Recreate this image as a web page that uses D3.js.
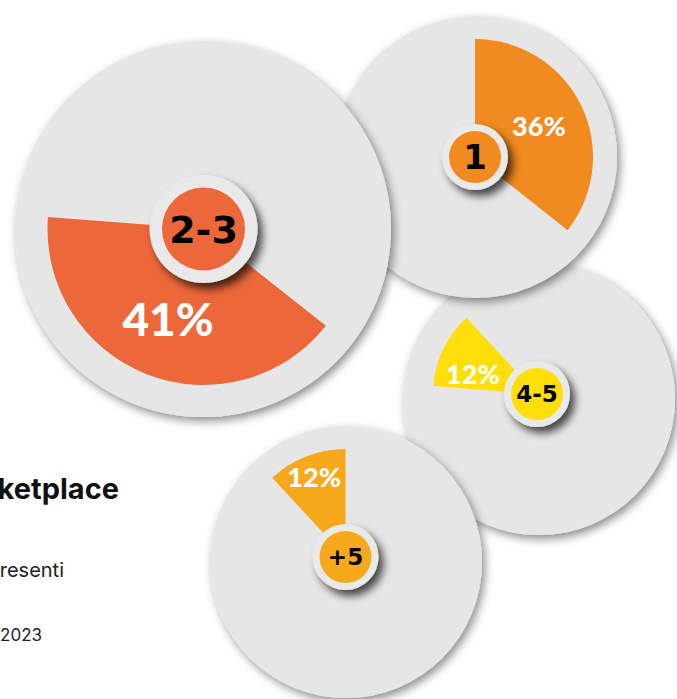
<!DOCTYPE html>
<html lang="it">
<head>
<meta charset="utf-8">
<title>Numero di marketplace</title>
<script src="https://cdn.jsdelivr.net/npm/d3@7/dist/d3.min.js"></script>
<style>
  html, body { margin: 0; padding: 0; background: #ffffff; overflow: hidden; }
  svg { display: block; }
</style>
</head>
<body>
<svg id="chart" width="677" height="699"></svg>
<script>
// Quota di aziende per numero di marketplace utilizzati
const categories = ["1", "2-3", "4-5", "+5"];
const shares = [36, 41, 12, 12];
const colors = ["#F18A1F", "#EC673A", "#FFDE0A", "#F6A91B"];

const titleText = "Numero di marketplace";
const subtitleText = "Quota di aziende per numero di marketplace su cui sono presenti";
const sourceText = "Fonte: indagine sulle aziende, 2023";

// Placement of each disc (centre, disc radius, wedge radius, hub, font sizes)
const layout = {
  "1":   { cx: 476, cy: 157, r: 141, hx: 475, hy: 157, wr: 118, hub: 26, ring: 33, catSize: 34, pctSize: 27, pctR: 71 },
  "2-3": { cx: 203, cy: 229, r: 188, hx: 203.5, hy: 229, wr: 156, hub: 41.5, ring: 54, catSize: 38, pctSize: 46, pctR: 97 },
  "4-5": { cx: 539, cy: 399, r: 136, hx: 537, hy: 394, wr: 104, hub: 26, ring: 33, catSize: 23, pctSize: 27, pctR: 67, pctAngle: 287 },
  "+5":  { cx: 346, cy: 562, r: 136, hx: 345.5, hy: 557, wr: 108, hub: 26, ring: 33, catSize: 23, pctSize: 27, pctR: 86 }
};
const drawOrder = ["4-5", "+5", "1", "2-3"];

const svg = d3.select("#chart");
const defs = svg.append("defs");

defs.append("filter")
  .attr("id", "discShadow")
  .attr("x", "-20%").attr("y", "-20%").attr("width", "140%").attr("height", "140%")
  .append("feDropShadow")
  .attr("dx", 3).attr("dy", 4).attr("stdDeviation", 5)
  .attr("flood-color", "#000").attr("flood-opacity", 0.45);

defs.append("filter")
  .attr("id", "hubShadow")
  .attr("x", "-50%").attr("y", "-50%").attr("width", "200%").attr("height", "200%")
  .append("feDropShadow")
  .attr("dx", 5).attr("dy", 6).attr("stdDeviation", 4.5)
  .attr("flood-color", "#000").attr("flood-opacity", 0.7);

// Title block (sits at the left, partly beyond the frame)
const textG = svg.append("g").attr("font-family", "Inter, 'Noto Sans', sans-serif").attr("text-anchor", "end");
textG.append("text").attr("x", 119).attr("y", 499)
  .attr("font-size", 29).attr("font-weight", 700).attr("fill", "#111").text(titleText);
textG.append("text").attr("x", 64).attr("y", 577)
  .attr("font-size", 20).attr("font-weight", 400).attr("fill", "#222").text(subtitleText);
textG.append("text").attr("x", 42).attr("y", 641)
  .attr("font-size", 17).attr("font-weight", 400).attr("fill", "#222").text(sourceText);

// Pie layout over all shares, keeping category order; each wedge goes on its own disc
const pie = d3.pie().sort(null).value(d => d.value);
const slices = pie(categories.map((c, i) => ({ cat: c, value: shares[i], color: colors[i] })));
const byCat = new Map(slices.map(s => [s.data.cat, s]));

drawOrder.forEach(cat => {
  const s = byCat.get(cat);
  const L = layout[cat];
  const g = svg.append("g");

  g.append("circle")
    .attr("cx", L.cx).attr("cy", L.cy).attr("r", L.r)
    .attr("fill", "#E6E6E6")
    .attr("filter", "url(#discShadow)");

  const arc = d3.arc().innerRadius(0).outerRadius(L.wr);
  const wg = g.append("g").attr("transform", `translate(${L.hx},${L.hy})`);
  wg.append("path").attr("d", arc(s)).attr("fill", s.data.color);

  const mid = L.pctAngle != null ? L.pctAngle * Math.PI / 180 : (s.startAngle + s.endAngle) / 2;
  wg.append("text")
    .attr("x", L.pctR * Math.sin(mid))
    .attr("y", -L.pctR * Math.cos(mid))
    .attr("dy", "0.36em")
    .attr("text-anchor", "middle")
    .attr("font-family", "Lato, 'Open Sans', sans-serif")
    .attr("font-weight", 900)
    .attr("font-size", L.pctSize)
    .attr("fill", "#ffffff")
    .text(d3.format(".0f")(s.data.value) + "%");

  // Hub with category label
  wg.append("circle").attr("r", L.ring).attr("fill", "#E9E9E9").attr("filter", "url(#hubShadow)");
  wg.append("circle").attr("r", L.hub).attr("fill", s.data.color);
  wg.append("text")
    .attr("dy", "0.36em")
    .attr("text-anchor", "middle")
    .attr("font-family", "'DejaVu Sans', sans-serif")
    .attr("font-weight", 700)
    .attr("font-size", L.catSize)
    .attr("fill", "#000")
    .text(cat);
});
</script>
</body>
</html>
